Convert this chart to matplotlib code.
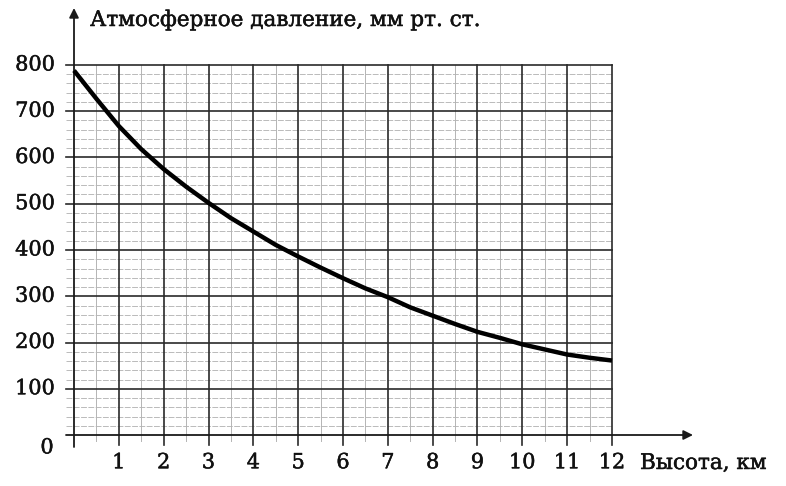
import numpy as np
import matplotlib.pyplot as plt
import matplotlib.patheffects as pe

# Data
height_km = [0, 0.5, 1, 1.5, 2, 2.5, 3, 3.5, 4, 4.5, 5, 5.5, 6,
             6.5, 7, 7.5, 8, 8.5, 9, 9.5, 10, 10.5, 11, 11.5, 12]
pressure = [788, 727, 668, 618, 575, 537, 502, 469, 440, 411, 386, 362, 339,
            317, 298, 276, 258, 240, 223, 210, 196, 185, 174, 167, 161]
x_ticks = list(range(1, 13))
y_ticks = [100, 200, 300, 400, 500, 600, 700, 800]

plt.rcParams['font.family'] = ['DejaVu Serif']
heavy = [pe.withStroke(linewidth=0.35, foreground='#111111')]

W, H = 786, 486
fig = plt.figure(figsize=(W / 100, H / 100), dpi=100)
ax = fig.add_axes([74 / W, 1 - 435 / H, 538 / W, 370 / H])
ax.set_xlim(0, 12)
ax.set_ylim(0, 800)
ax.axis('off')

ext = -8 / 538 * 12  # lines reach a little left of the y axis

# Minor grid
for yv in np.arange(20, 800, 20):
    if yv % 100:
        ax.plot([ext, 12], [yv, yv], color='#bababa', lw=0.7,
                linestyle=(0, (6, 1.5)), clip_on=False, zorder=1)
for xv in np.arange(0.5, 12, 1):
    ax.plot([xv, xv], [-14, 800], color='#b4b4b4', lw=0.7, clip_on=False, zorder=1)

# Major grid
for yv in y_ticks:
    ax.plot([ext, 12], [yv, yv], color='#2a2a2a', lw=1.2, clip_on=False, zorder=2)
for xv in x_ticks:
    ax.plot([xv, xv], [-22, 800], color='#2a2a2a', lw=1.2, clip_on=False, zorder=2)

# Axes with arrows
ax.annotate('', xy=(693 / W, 1 - 435 / H), xytext=(66 / W, 1 - 435 / H),
            xycoords='figure fraction',
            arrowprops=dict(arrowstyle='-|>', color='#1a1a1a', lw=1.3,
                            mutation_scale=14, shrinkA=0, shrinkB=0))
ax.annotate('', xy=(74 / W, 1 - 8 / H), xytext=(74 / W, 1 - 447 / H),
            xycoords='figure fraction',
            arrowprops=dict(arrowstyle='-|>', color='#1a1a1a', lw=1.3,
                            mutation_scale=14, shrinkA=0, shrinkB=0))

# Curve
ax.plot(height_km, pressure, color='black', lw=3.2, zorder=5,
        solid_capstyle='butt', solid_joinstyle='round', clip_on=False)

# Tick labels
for xv in x_ticks:
    ax.text(xv, -60, str(xv), ha='center', va='center', fontsize=15,
            color='#111111', path_effects=heavy)
for yv in y_ticks:
    ax.text(-0.42, yv, str(yv), ha='right', va='center', fontsize=15,
            color='#111111', path_effects=heavy)
ax.text(-0.6, -28, '0', ha='center', va='center', fontsize=15,
        color='#111111', path_effects=heavy)

fig.text(90 / W, 1 - 20 / H, 'Атмосферное давление, мм рт. ст.',
         ha='left', va='center', fontsize=15.5, color='#111111', path_effects=heavy)
fig.text(640 / W, 1 - 463 / H, 'Высота, км', ha='left', va='center',
         fontsize=15.5, color='#111111', path_effects=heavy)

fig.savefig('out.png', dpi=100, facecolor='white')
